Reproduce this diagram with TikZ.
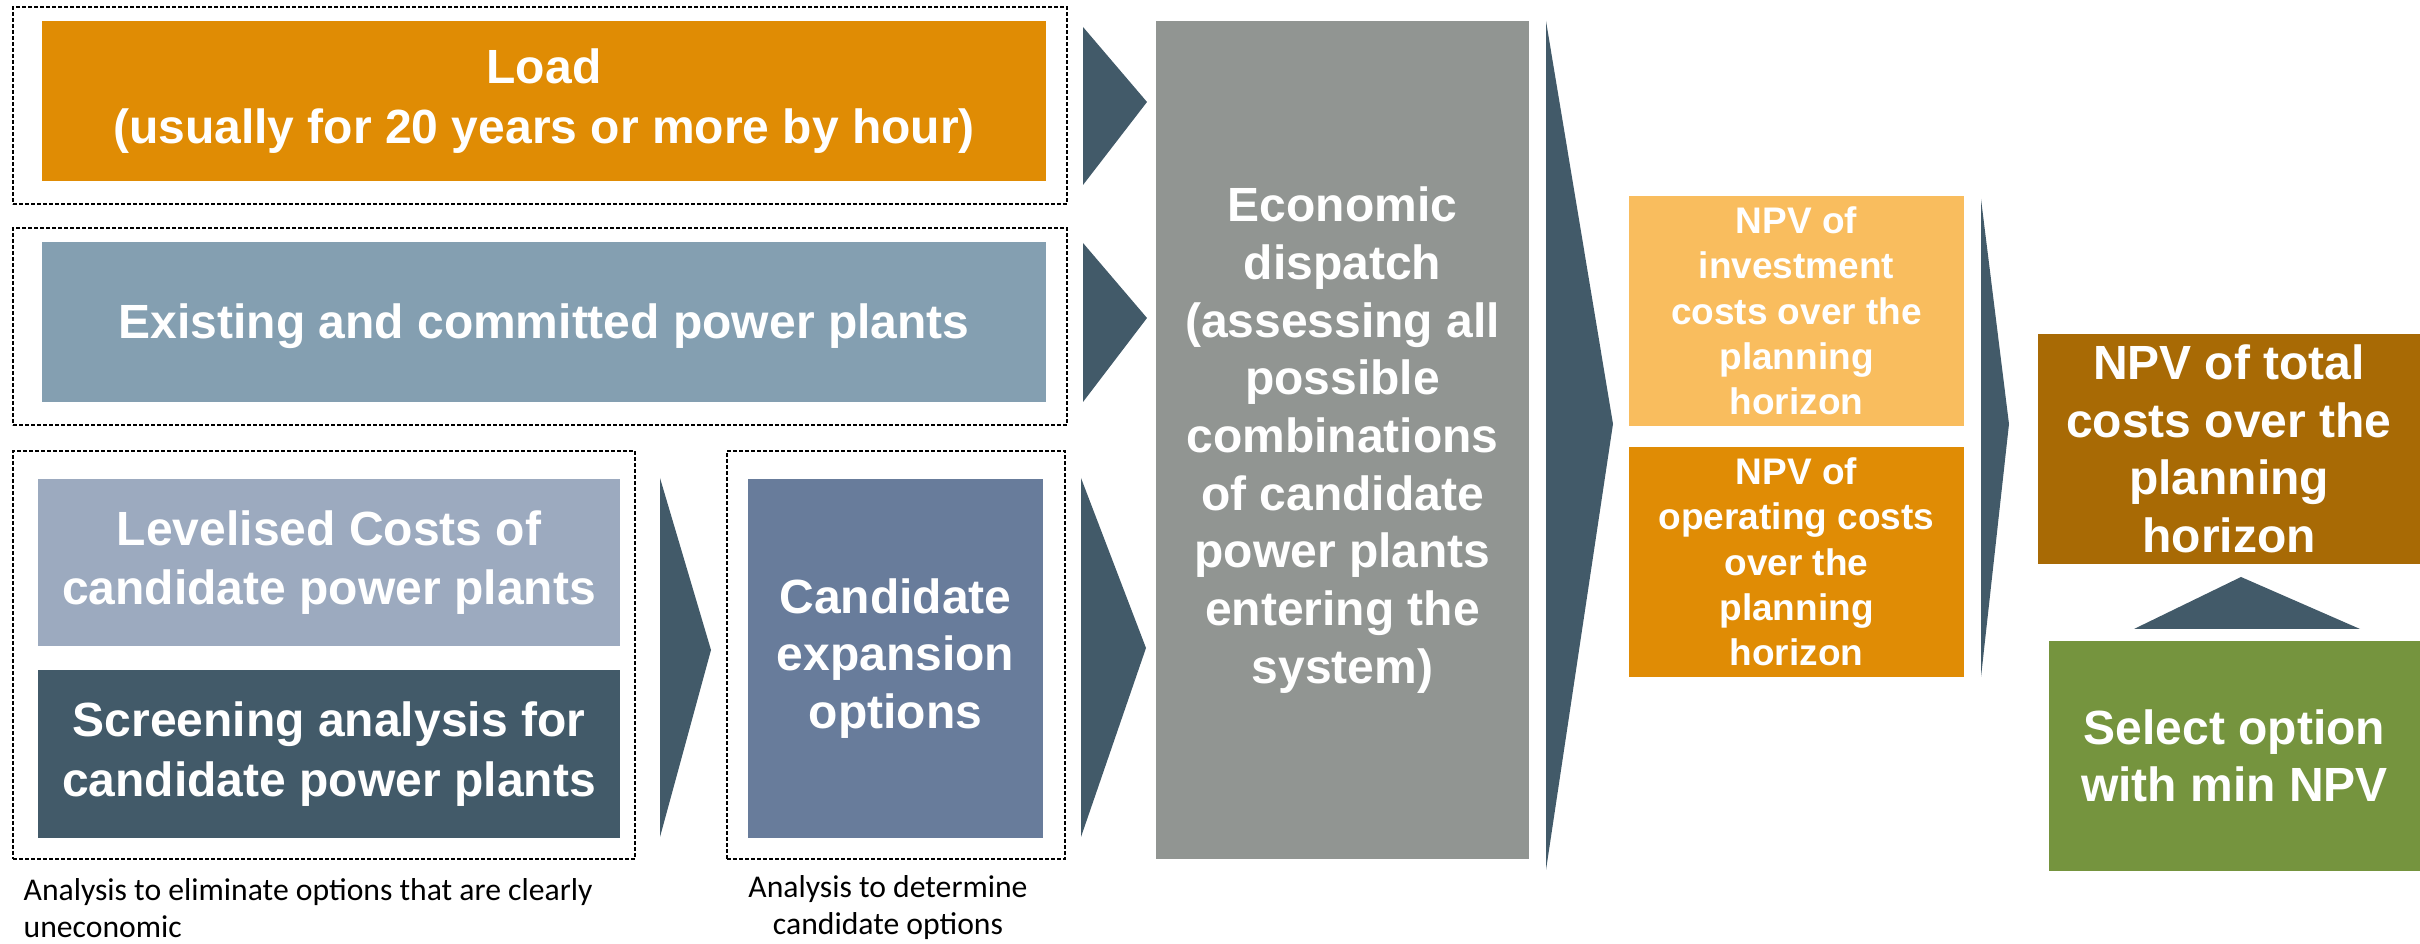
\documentclass[tikz,border=0pt]{standalone}
\usepackage{fontspec}
\setmainfont{Liberation Sans}
\newfontfamily\capfont{Carlito}
\definecolor{cLoad}{HTML}{E08C04}
\definecolor{cExist}{HTML}{849FB1}
\definecolor{cLev}{HTML}{9CAABF}
\definecolor{cScreen}{HTML}{425A69}
\definecolor{cCand}{HTML}{687C9B}
\definecolor{cEcon}{HTML}{919592}
\definecolor{cArrow}{HTML}{425A69}
\definecolor{cInv}{HTML}{F9BD5E}
\definecolor{cOp}{HTML}{E08C05}
\definecolor{cTot}{HTML}{A86A05}
\definecolor{cSel}{HTML}{75943E}
\begin{document}
\begin{tikzpicture}[x=0.3pt,y=-0.3pt,
  box/.style={inner sep=0pt, align=center, text=white, font=\bfseries\fontsize{14.4}{17.8}\selectfont,
    execute at begin node=\rule{0pt}{12.8pt}},
  tightbox/.style={box, font=\bfseries\fontsize{14.4}{17.3}\selectfont},
  smallbox/.style={inner sep=0pt, align=center, text=white, font=\bfseries\fontsize{11.1}{13.6}\selectfont,
    execute at begin node=\rule{0pt}{9.6pt}},
  dbox/.style={draw=black, dash pattern=on 1.2pt off 0.6pt, line width=0.45pt, inner sep=0pt},
  chev/.style={fill=cArrow},
  captext/.style={font=\capfont\fontsize{9.5}{11.1}\selectfont, inner sep=0pt, text=black}]
\useasboundingbox (0,0) rectangle (2420,944);
% dashed frames
\node[dbox, minimum width=316.2pt, minimum height=59.1pt] (d1) at (540,105.5) {};
\node[dbox, minimum width=316.2pt, minimum height=59.1pt] (d2) at (540,326.5) {};
\node[dbox, minimum width=186.6pt, minimum height=122.4pt] (d3) at (324,655) {};
\node[dbox, minimum width=101.4pt, minimum height=122.4pt] (d4) at (896,655) {};
% boxes
\node[box, fill=cLoad, minimum width=301.2pt, minimum height=48pt] (load) at (544,101) {Load\\(usually for 20 years or more by hour)};
\node[box, fill=cExist, minimum width=301.2pt, minimum height=48pt] (exist) at (544,322) {Existing and committed power plants};
\node[box, fill=cLev, minimum width=174.6pt, minimum height=50.1pt] (lev) at (329,562.5) {Levelised Costs of\\candidate power plants};
\node[box, fill=cScreen, minimum width=174.6pt, minimum height=50.4pt] (screen) at (329,754) {Screening analysis for\\candidate power plants};
\node[tightbox, fill=cCand, minimum width=88.5pt, minimum height=107.7pt] (cand) at (895.5,658.5) {Candidate\\expansion\\options};
\node[tightbox, fill=cEcon, minimum width=111.9pt, minimum height=251.4pt] (econ) at (1342.5,440) {Economic\\dispatch\\(assessing all\\possible\\combinations\\of candidate\\power plants\\entering the\\system)};
\node[smallbox, fill=cInv, minimum width=100.5pt, minimum height=69pt] (inv) at (1796.5,311) {NPV of\\investment\\costs over the\\planning\\horizon};
\node[smallbox, fill=cOp, minimum width=100.5pt, minimum height=69pt] (op) at (1796.5,562) {NPV of\\operating costs\\over the\\planning\\horizon};
\node[tightbox, fill=cTot, minimum width=114.6pt, minimum height=69pt] (tot) at (2229,449) {NPV of total\\costs over the\\planning\\horizon};
\node[tightbox, fill=cSel, minimum width=111.3pt, minimum height=69pt] (sel) at (2234.5,756) {Select option\\with min NPV};
% chevrons
\fill[chev] (1083,27) -- (1147,102) -- (1083,185) -- cycle;
\fill[chev] (1083,243) -- (1147,318) -- (1083,402) -- cycle;
\fill[chev] (660,478) -- (711,650) -- (660,837) -- cycle;
\fill[chev] (1081,478) -- (1146,648) -- (1081,837) -- cycle;
\fill[chev] (1546,21) -- (1613,424) -- (1546,870) -- cycle;
\fill[chev] (1981,199) -- (2009,424) -- (1981,677) -- cycle;
\fill[chev] (2134,629) -- (2241,577) -- (2360,629) -- cycle;
% captions
\node[captext, anchor=north west, align=left] (c1) at (23,878) {Analysis to eliminate options that are clearly\\uneconomic};
\node[captext, anchor=north, align=center] (c2) at (888,875) {Analysis to determine\\candidate options};
\end{tikzpicture}
\end{document}
